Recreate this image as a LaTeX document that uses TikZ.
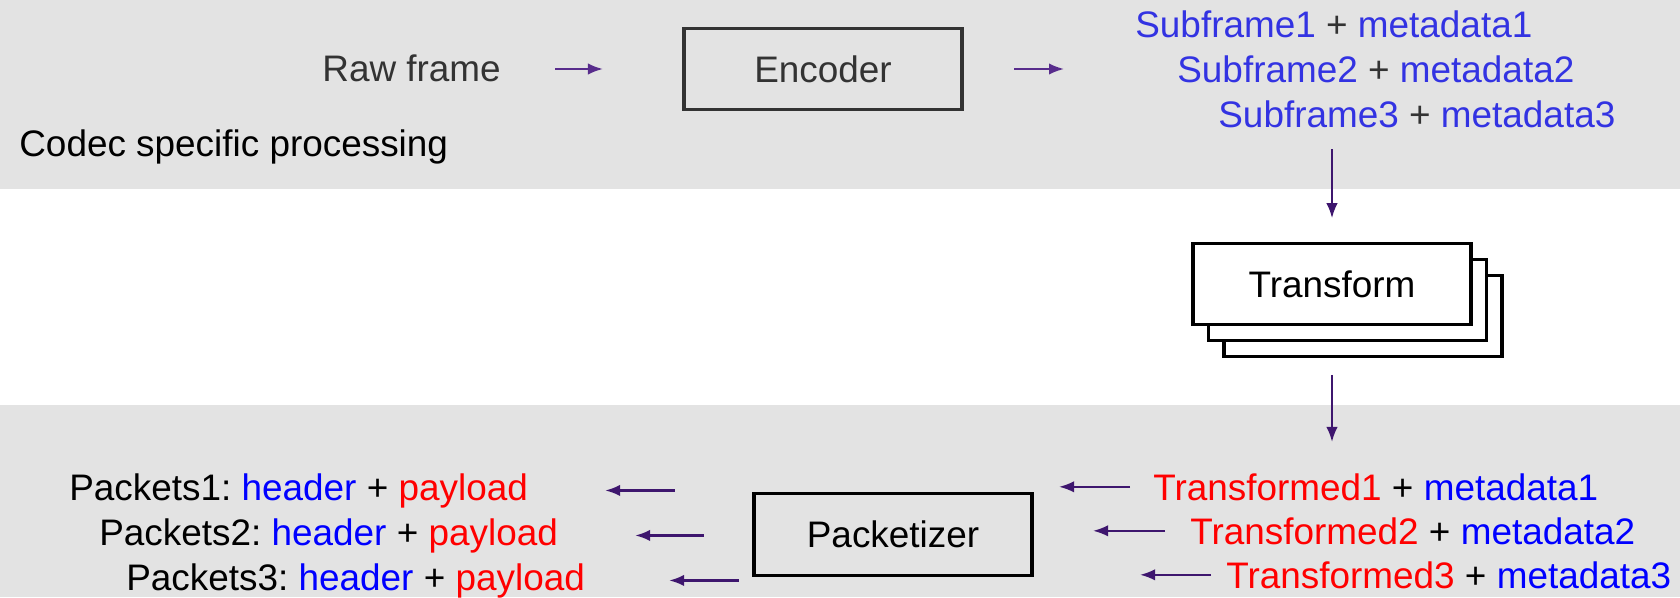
\documentclass[tikz,border=0pt]{standalone}
\usepackage{fontspec}
\setmainfont{Liberation Sans}
\usetikzlibrary{arrows.meta}
\frenchspacing

\definecolor{bandgray}{RGB}{227,227,227}
\definecolor{topgray}{RGB}{51,51,51}
\definecolor{subblue}{RGB}{51,51,226}
\definecolor{toparrow}{RGB}{88,44,140}
\definecolor{arrowpurple}{RGB}{62,22,110}

\begin{document}
\begin{tikzpicture}[
    font=\fontsize{21}{25}\selectfont,
    lbl/.style={anchor=base west, inner sep=0pt},
    blk/.style={draw, line width=1.8pt, minimum width=5.56cm, minimum height=1.63cm, align=center},
    arr/.style={-{Latex[length=3mm, width=2.3mm]}, line width=1.2pt, arrowpurple}
  ]
    \useasboundingbox (0,0) rectangle (33.6,11.94);
    \fill[bandgray] (0,8.16) rectangle (33.6,11.94);
    \fill[bandgray] (0,0) rectangle (33.6,3.84);

    \node[lbl] (codec) at (0.38,8.82) {Codec specific processing};
    \node[lbl, text=topgray] (raw) at (6.44,10.30) {Raw frame};
    \node[blk, draw=topgray, text=topgray] (enc) at (16.46,10.56) {Encoder};
    \node[lbl, text=subblue] (sub1) at (22.70,11.18) {Subframe1 \textcolor{topgray}{+} metadata1};
    \node[lbl, text=subblue] (sub2) at (23.54,10.28) {Subframe2 \textcolor{topgray}{+} metadata2};
    \node[lbl, text=subblue] (sub3) at (24.36,9.40) {Subframe3 \textcolor{topgray}{+} metadata3};

    \draw[arr, toparrow, shorten <=1.08cm, shorten >=1.59cm] (enc.west -| raw.east) -- (enc.west);
    \draw[arr, toparrow, shorten <=1.01cm, shorten >=1.42cm] (enc.east) -- (enc.east -| sub1.west);

    \node[blk, fill=white] (tfback2) at (27.26,5.62) {};
    \node[blk, fill=white] (tfback1) at (26.95,5.94) {};
    \node[blk, fill=white] (tf) at (26.64,6.26) {Transform};

    \node[lbl, text=red] (tf1) at (23.06,1.94) {Transformed1 \textcolor{black}{+} \textcolor{blue}{metadata1}};
    \node[lbl, text=red] (tf2) at (23.80,1.06) {Transformed2 \textcolor{black}{+} \textcolor{blue}{metadata2}};
    \node[lbl, text=red] (tf3) at (24.52,0.18) {Transformed3 \textcolor{black}{+} \textcolor{blue}{metadata3}};

    \draw[arr, shorten <=0.44cm, shorten >=0.47cm] (tf.north |- sub3.base) -- (tf.north);
    \draw[arr, shorten <=0.97cm, shorten >=0.62cm] (tf.south) -- (tf.south |- tf1.north);

    \node[blk] (pkt) at (17.86,1.25) {Packetizer};

    \node[lbl] (pk1) at (1.38,1.94) {Packets1: \textcolor{blue}{header} + \textcolor{red}{payload}};
    \node[lbl] (pk2) at (1.98,1.04) {Packets2: \textcolor{blue}{header} + \textcolor{red}{payload}};
    \node[lbl] (pk3) at (2.52,0.14) {Packets3: \textcolor{blue}{header} + \textcolor{red}{payload}};

    \draw[arr, shorten <=0.46cm, shorten >=0.51cm] (tf1.west) -- (tf1.west -| pkt.east);
    \draw[arr, shorten <=0.50cm, shorten >=1.19cm] (tf2.west) -- (tf2.west -| pkt.east);
    \draw[arr, shorten <=0.30cm, shorten >=2.13cm] (tf3.west) -- (tf3.west -| pkt.east);
    \draw[arr, shorten <=1.55cm, shorten >=1.54cm] (pkt.west |- pk1.east) -- (pk1.east);
    \draw[arr, shorten <=0.97cm, shorten >=1.54cm] (pkt.west |- pk2.east) -- (pk2.east);
    \draw[arr, shorten <=0.27cm, shorten >=1.68cm] (pkt.west |- pk3.east) -- (pk3.east);
  \end{tikzpicture}
\end{document}
